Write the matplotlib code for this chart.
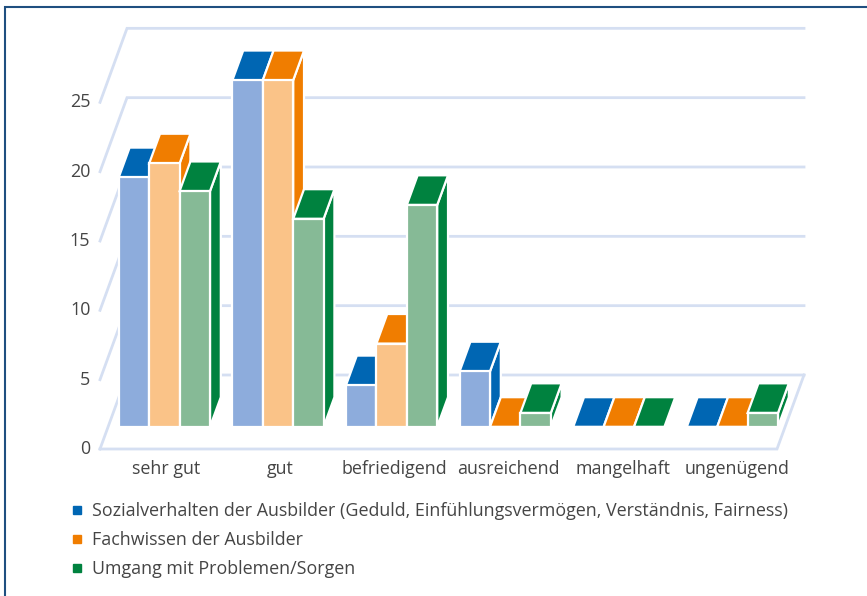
import matplotlib
matplotlib.use("Agg")
import matplotlib.pyplot as plt
from matplotlib.patches import Polygon
from matplotlib.lines import Line2D
from matplotlib.transforms import ScaledTranslation

W, H = 867, 596
plt.rcParams['font.family'] = ['Open Sans', 'DejaVu Sans']

categories = ["sehr gut", "gut", "befriedigend", "ausreichend", "mangelhaft", "ungenügend"]
series_names = ["Sozialverhalten der Ausbilder (Geduld, Einfühlungsvermögen, Verständnis, Fairness)",
                "Fachwissen der Ausbilder",
                "Umgang mit Problemen/Sorgen"]
sozial = [18, 25, 3, 4, 0, 0]
fach = [19, 25, 6, 0, 0, 0]
umgang = [17, 15, 16, 1, 0, 1]
yticks = [0, 5, 10, 15, 20, 25]

dark = ["#0066b3", "#f07d00", "#00823f"]
light = ["#8dacdc", "#fac388", "#86ba96"]
grid = "#d5dff2"
txt = "#454545"
FS = 12.9

fig = plt.figure(figsize=(W/100, H/100), dpi=100)
fig.patch.set_facecolor("white")
L, R, B, T = 100, 777, 449, 33
ax = fig.add_axes([L/W, 1-B/H, (R-L)/W, (B-T)/H])
ax.set_xlim(0, 6)
ax.set_ylim(0, 30)
for s in ax.spines.values():
    s.set_visible(False)

ux = (R-L)/6
uy = (B-T)/30
DX, DY = 27/ux, 74/uy   # depth vector of the floor, data units

def P(x, y, d):
    return (x + d*DX, y + d*DY)

# walls
for v in yticks:
    pts = [P(0, v, 0), P(0, v, 1), P(6, v, 1)]
    ax.plot(*zip(*pts), color=grid, lw=2, clip_on=False, zorder=1, solid_joinstyle="miter")
floor = [P(0, 0, 0), P(6, 0, 0), P(6, 0, 1)]
ax.plot(*zip(*floor), color=grid, lw=2, clip_on=False, zorder=1, solid_joinstyle="miter")

# bars
step = 30.4/ux
bw = step
d0, d1 = 0.30, 0.70
first = 0.095        # left edge of first group, category units before depth shift
pitch = 113.6/ux
z = 2
for i in range(6):
    for j, vals in enumerate([sozial, fach, umgang]):
        v = vals[i]
        x0 = first + i*pitch + j*step
        x1 = x0 + bw
        kw = dict(edgecolor="white", lw=1.6, clip_on=False, joinstyle="miter")
        if v > 0:
            ax.add_patch(Polygon([P(x1, 0, d0), P(x1, 0, d1), P(x1, v, d1), P(x1, v, d0)],
                                 facecolor=dark[j], zorder=z, **kw)); z += 1
        ax.add_patch(Polygon([P(x0, v, d0), P(x1, v, d0), P(x1, v, d1), P(x0, v, d1)],
                             facecolor=dark[j], zorder=z, **kw)); z += 1
        if v > 0:
            ax.add_patch(Polygon([P(x0, 0, d0), P(x1, 0, d0), P(x1, v, d0), P(x0, v, d0)],
                                 facecolor=light[j], zorder=z, **kw)); z += 1

ax.set_xticks([0.585 + i*1.012 for i in range(6)])
ax.set_xticklabels(categories, fontsize=FS, color=txt)
ax.set_yticks(yticks)
ax.set_yticklabels([str(v) for v in yticks], fontsize=FS, color=txt)
ax.tick_params(length=0)
ax.tick_params(axis="y", pad=7)
ax.tick_params(axis="x", pad=8)
shift = ScaledTranslation(0, 1.5/72, fig.dpi_scale_trans)
for lab in ax.get_yticklabels():
    lab.set_transform(lab.get_transform() + shift)

handles = [Line2D([], [], marker="s", ls="none", color=c, markersize=5.8) for c in dark]
leg = fig.legend(handles, series_names, loc="upper left", bbox_to_anchor=(71.7/W, 1-502/H),
                 bbox_transform=fig.transFigure, frameon=False, fontsize=FS, labelcolor=txt,
                 handlelength=0.6, handletextpad=0.54, labelspacing=0.62, borderpad=0, borderaxespad=0)

# outer frame: top and left rule
fig.add_artist(Line2D([5/W, 5/W, 1.0], [0, 1-7/H, 1-7/H], transform=fig.transFigure,
                      color="#1f4f80", lw=1.5, solid_joinstyle="miter"))

fig.savefig("out.png", dpi=100)
